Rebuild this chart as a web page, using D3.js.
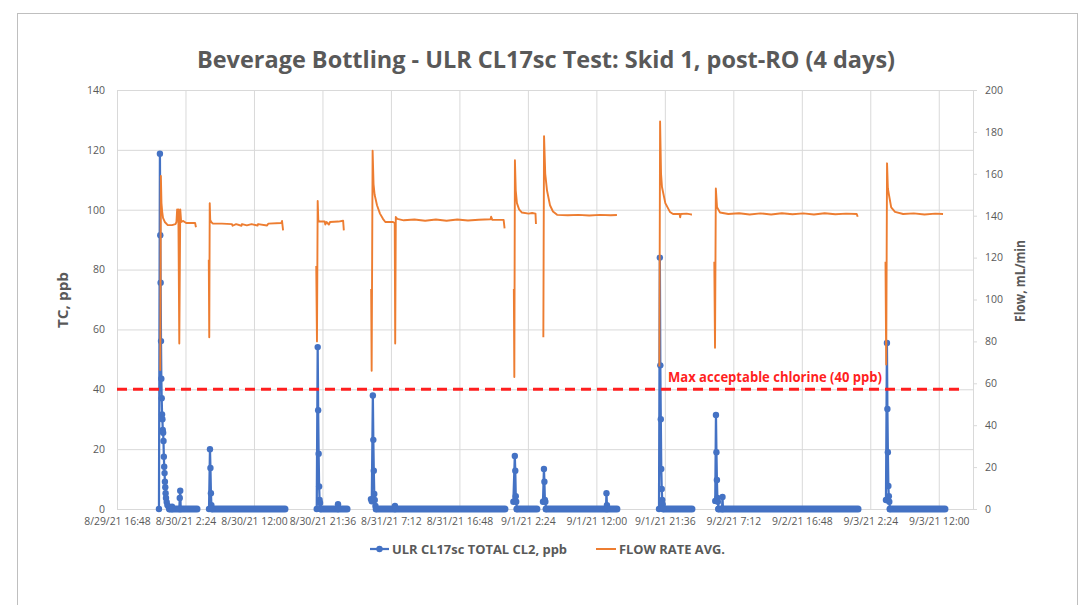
<!DOCTYPE html>
<html>
<head>
<meta charset="utf-8">
<script src="https://cdn.jsdelivr.net/npm/d3@7/dist/d3.min.js"></script>
<style>
  body { margin: 0; background: #fff; }
  svg text { font-family: "Open Sans", "Noto Sans", sans-serif; }
</style>
</head>
<body>
<div id="chart"></div>
<script>
// axis setup
const xDomain = ["8/29/21 16:48", "9/3/21 16:48"];
const xTickLabels = ["8/29/21 16:48", "8/30/21 2:24", "8/30/21 12:00", "8/30/21 21:36", "8/31/21 7:12",
  "8/31/21 16:48", "9/1/21 2:24", "9/1/21 12:00", "9/1/21 21:36", "9/2/21 7:12", "9/2/21 16:48",
  "9/3/21 2:24", "9/3/21 12:00"];
const tcTicks = [0, 20, 40, 60, 80, 100, 120, 140];
const flowTicks = [0, 20, 40, 60, 80, 100, 120, 140, 160, 180, 200];
const maxChlorine = 40;

// chlorine readings (ppb) per run, then the end of the zero stretch that follows
const cl1 = [["8/29/21 22:41", 0], ["8/29/21 22:49", 118.7], ["8/29/21 22:52", 91.5], ["8/29/21 22:55", 75.6],
  ["8/29/21 22:58", 56.1], ["8/29/21 23:01", 43.5], ["8/29/21 23:04", 37], ["8/29/21 23:07", 31.6],
  ["8/29/21 23:10", 30], ["8/29/21 23:13", 26.4], ["8/29/21 23:16", 25.5], ["8/29/21 23:19", 22.7],
  ["8/29/21 23:22", 17.5], ["8/29/21 23:25", 14.1], ["8/29/21 23:28", 12], ["8/29/21 23:31", 9.1],
  ["8/29/21 23:34", 7.3], ["8/29/21 23:37", 5.3], ["8/29/21 23:40", 3.7], ["8/29/21 23:46", 2.3],
  ["8/29/21 23:52", 1.3], ["8/30/21 0:02", 0.7], ["8/30/21 0:10", 0], ["8/30/21 0:27", 0], ["8/30/21 0:31", 0.8],
  ["8/30/21 0:35", 0], ["8/30/21 1:32", 0], ["8/30/21 1:36", 3.7], ["8/30/21 1:40", 6.1], ["8/30/21 1:44", 0]];
const cl2 = [["8/30/21 5:42", 0], ["8/30/21 5:50", 20], ["8/30/21 5:54", 13.7], ["8/30/21 5:58", 5.3],
  ["8/30/21 6:02", 1.3], ["8/30/21 6:08", 0]];
const cl3 = [["8/30/21 20:48", 0], ["8/30/21 20:56", 54.1], ["8/30/21 21:00", 33], ["8/30/21 21:04", 18.5],
  ["8/30/21 21:08", 7.5], ["8/30/21 21:12", 3], ["8/30/21 21:16", 2], ["8/30/21 21:22", 0],
  ["8/30/21 23:43", 0], ["8/30/21 23:47", 1.6], ["8/30/21 23:51", 0]];
const cl4 = [["8/31/21 4:24", 3.3], ["8/31/21 4:31", 2.6], ["8/31/21 4:40", 37.9], ["8/31/21 4:44", 23.1],
  ["8/31/21 4:48", 12.8], ["8/31/21 4:52", 5], ["8/31/21 4:56", 3], ["8/31/21 5:02", 1], ["8/31/21 5:08", 0],
  ["8/31/21 7:42", 0], ["8/31/21 7:46", 1], ["8/31/21 7:50", 0]];
const cl5 = [["9/1/21 0:22", 2.4], ["9/1/21 0:34", 17.7], ["9/1/21 0:38", 12.8], ["9/1/21 0:42", 4.3],
  ["9/1/21 0:46", 2.4], ["9/1/21 0:52", 0]];
const cl6 = [["9/1/21 4:31", 2.4], ["9/1/21 4:39", 13.4], ["9/1/21 4:43", 9.1], ["9/1/21 4:47", 3],
  ["9/1/21 4:51", 2.4], ["9/1/21 4:57", 0], ["9/1/21 13:21", 0], ["9/1/21 13:25", 5.3], ["9/1/21 13:29", 1.3],
  ["9/1/21 13:33", 0]];
const cl7 = [["9/1/21 20:47", 0], ["9/1/21 20:54", 84], ["9/1/21 20:58", 48], ["9/1/21 21:02", 30],
  ["9/1/21 21:06", 13.4], ["9/1/21 21:10", 6.7], ["9/1/21 21:14", 3], ["9/1/21 21:18", 1.5], ["9/1/21 21:24", 0]];
const cl8 = [["9/2/21 4:40", 2.7], ["9/2/21 4:46", 31.4], ["9/2/21 4:50", 19], ["9/2/21 4:54", 9.7],
  ["9/2/21 4:58", 3.7], ["9/2/21 5:02", 2.4], ["9/2/21 5:08", 0], ["9/2/21 5:37", 0], ["9/2/21 5:41", 4],
  ["9/2/21 5:45", 0]];
const cl9 = [["9/3/21 4:36", 3], ["9/3/21 4:44", 55.5], ["9/3/21 4:48", 33.4], ["9/3/21 4:52", 19],
  ["9/3/21 4:56", 7.7], ["9/3/21 5:00", 4.3], ["9/3/21 5:04", 2.4], ["9/3/21 5:10", 0]];
const clRunEnds = ["8/30/21 4:01", "8/30/21 16:21", "8/31/21 1:03", "8/31/21 23:11", "9/1/21 3:40",
  "9/1/21 14:53", "9/2/21 1:24", "9/3/21 0:41", "9/3/21 12:52"];

// flow rate avg (mL/min) per run
const flow1 = [["8/29/21 22:52", 66], ["8/29/21 22:57", 159], ["8/29/21 23:02", 146], ["8/29/21 23:08", 142],
  ["8/29/21 23:15", 139], ["8/29/21 23:30", 137], ["8/29/21 23:55", 135.5], ["8/30/21 0:30", 135.5],
  ["8/30/21 1:00", 136], ["8/30/21 1:08", 137], ["8/30/21 1:14", 143], ["8/30/21 1:19", 139], ["8/30/21 1:24", 143],
  ["8/30/21 1:32", 79], ["8/30/21 1:40", 143], ["8/30/21 1:48", 137], ["8/30/21 2:05", 137.5],
  ["8/30/21 2:30", 136.5], ["8/30/21 3:10", 136.5], ["8/30/21 3:45", 136.5], ["8/30/21 3:52", 134.5]];
const flow2 = [["8/30/21 5:40", 119], ["8/30/21 5:44", 82], ["8/30/21 5:48", 146], ["8/30/21 5:52", 138],
  ["8/30/21 6:00", 137], ["8/30/21 6:15", 136.2], ["8/30/21 7:30", 136.2], ["8/30/21 8:55", 136],
  ["8/30/21 9:00", 135.2], ["8/30/21 9:30", 136], ["8/30/21 10:15", 135.2], ["8/30/21 10:20", 136],
  ["8/30/21 11:00", 135.4], ["8/30/21 11:40", 136], ["8/30/21 12:30", 135.3], ["8/30/21 12:35", 136],
  ["8/30/21 13:50", 135.3], ["8/30/21 14:00", 136.2], ["8/30/21 15:50", 136.5], ["8/30/21 15:56", 137.5],
  ["8/30/21 16:05", 133]];
const flow3 = [["8/30/21 20:44", 116], ["8/30/21 20:50", 80], ["8/30/21 20:56", 147], ["8/30/21 21:01", 138],
  ["8/30/21 21:08", 137.2], ["8/30/21 21:55", 137.2], ["8/30/21 22:00", 135.8], ["8/30/21 22:10", 137],
  ["8/30/21 22:30", 135.8], ["8/30/21 22:40", 137], ["8/30/21 23:50", 137.2], ["8/31/21 0:30", 137.6],
  ["8/31/21 0:36", 133]];
const flow4 = [["8/31/21 4:26", 105], ["8/31/21 4:30", 66], ["8/31/21 4:38", 171], ["8/31/21 4:46", 155],
  ["8/31/21 4:55", 150], ["8/31/21 5:15", 145], ["8/31/21 5:40", 141], ["8/31/21 6:05", 138.5],
  ["8/31/21 6:25", 137], ["8/31/21 7:30", 137], ["8/31/21 7:44", 136.5], ["8/31/21 7:48", 79],
  ["8/31/21 7:53", 139.4], ["8/31/21 8:05", 138.5], ["8/31/21 9:00", 137.8], ["8/31/21 10:30", 138.2],
  ["8/31/21 12:00", 137.6], ["8/31/21 13:30", 138.2], ["8/31/21 15:00", 137.6], ["8/31/21 16:30", 138.2],
  ["8/31/21 18:00", 137.7], ["8/31/21 19:30", 138.1], ["8/31/21 21:10", 138.3], ["8/31/21 21:15", 139.5],
  ["8/31/21 21:25", 138], ["8/31/21 23:00", 138], ["8/31/21 23:08", 134]];
const flow5 = [["9/1/21 0:26", 105], ["9/1/21 0:30", 63], ["9/1/21 0:35", 166.5], ["9/1/21 0:42", 152],
  ["9/1/21 0:52", 146], ["9/1/21 1:10", 143], ["9/1/21 1:34", 141.5], ["9/1/21 2:30", 141],
  ["9/1/21 3:00", 141.3], ["9/1/21 3:28", 141], ["9/1/21 3:32", 136]];
const flow6 = [["9/1/21 4:34", 82], ["9/1/21 4:40", 178], ["9/1/21 4:50", 160], ["9/1/21 5:05", 152],
  ["9/1/21 5:30", 145], ["9/1/21 5:55", 142], ["9/1/21 6:30", 140.4], ["9/1/21 8:00", 140.2],
  ["9/1/21 9:30", 140.4], ["9/1/21 11:00", 140.1], ["9/1/21 12:30", 140.4], ["9/1/21 14:00", 140.2],
  ["9/1/21 14:53", 140.3]];
const flow7 = [["9/1/21 20:50", 68], ["9/1/21 20:56", 185], ["9/1/21 21:04", 160], ["9/1/21 21:12", 153.7],
  ["9/1/21 21:40", 146], ["9/1/21 22:19", 141.8], ["9/1/21 22:45", 140.8], ["9/1/21 23:40", 140.8],
  ["9/1/21 23:45", 139.2], ["9/1/21 23:50", 140.8], ["9/2/21 0:40", 141], ["9/2/21 1:15", 140.6],
  ["9/2/21 1:24", 140.6]];
const flow8 = [["9/2/21 4:32", 118], ["9/2/21 4:38", 77], ["9/2/21 4:45", 153], ["9/2/21 4:55", 144],
  ["9/2/21 5:20", 141.5], ["9/2/21 6:30", 140.8], ["9/2/21 8:00", 141.2], ["9/2/21 9:30", 140.6],
  ["9/2/21 11:00", 141.1], ["9/2/21 12:30", 140.6], ["9/2/21 14:00", 141.2], ["9/2/21 15:30", 140.7],
  ["9/2/21 17:00", 141.1], ["9/2/21 18:30", 140.6], ["9/2/21 20:00", 141.2], ["9/2/21 21:30", 140.7],
  ["9/2/21 23:00", 141], ["9/3/21 0:30", 140.8], ["9/3/21 0:38", 139.5]];
const flow9 = [["9/3/21 4:32", 118], ["9/3/21 4:38", 69], ["9/3/21 4:45", 165], ["9/3/21 4:52", 153],
  ["9/3/21 5:01", 150], ["9/3/21 5:20", 144], ["9/3/21 5:52", 141.8], ["9/3/21 7:00", 140.8],
  ["9/3/21 8:30", 141.1], ["9/3/21 10:00", 140.6], ["9/3/21 11:30", 141], ["9/3/21 12:36", 140.8]];

const clRuns = [cl1, cl2, cl3, cl4, cl5, cl6, cl7, cl8, cl9];
const flowRuns = [flow1, flow2, flow3, flow4, flow5, flow6, flow7, flow8, flow9];

const BLUE = "#4472C4", ORANGE = "#ED7D31", GRID = "#d9d9d9", TEXT = "#595959";
const parse = d3.timeParse("%m/%d/%y %H:%M");

const width = 1086, height = 605;
const plot = { left: 117, right: 973, top: 90, bottom: 509 };

const svg = d3.select("#chart").append("svg")
  .attr("width", width)
  .attr("height", height);

svg.append("rect").attr("width", width).attr("height", height).attr("fill", "#fff");
// chart border
svg.append("rect")
  .attr("x", 17.5).attr("y", 13.5)
  .attr("width", 1060).attr("height", 620)
  .attr("fill", "none").attr("stroke", "#bfbfbf");

const x = d3.scaleTime()
  .domain(xDomain.map(parse))
  .range([plot.left, plot.right]);
const yL = d3.scaleLinear().domain([0, 140]).range([plot.bottom, plot.top]);
const yR = d3.scaleLinear().domain([0, 200]).range([plot.bottom, plot.top]);

// gridlines
svg.append("g")
  .attr("transform", `translate(0,${plot.bottom})`)
  .call(d3.axisBottom(x).tickValues(xTickLabels.map(parse)).tickSize(-(plot.bottom - plot.top)).tickFormat(""))
  .call(g => g.select(".domain").remove())
  .call(g => g.selectAll("line").attr("stroke", GRID));
svg.append("g")
  .attr("transform", `translate(${plot.left},0)`)
  .call(d3.axisLeft(yL).tickValues(tcTicks).tickSize(-(plot.right - plot.left)).tickFormat(""))
  .call(g => g.select(".domain").remove())
  .call(g => g.selectAll("line").attr("stroke", GRID));

// left axis labels
svg.append("g")
  .attr("transform", `translate(${plot.left},0)`)
  .call(d3.axisLeft(yL).tickValues(tcTicks).tickSize(0).tickPadding(12))
  .call(g => g.select(".domain").remove())
  .call(g => g.selectAll("text").attr("fill", TEXT).style("font-size", "10.5px"));

// right axis
svg.append("g")
  .attr("transform", `translate(${plot.right},0)`)
  .call(d3.axisRight(yR).tickValues(flowTicks).tickSize(4).tickPadding(8))
  .call(g => g.select(".domain").attr("stroke", GRID))
  .call(g => g.selectAll("line").attr("stroke", GRID))
  .call(g => g.selectAll("text").attr("fill", TEXT).style("font-size", "10.5px"));

// bottom axis labels
svg.append("g")
  .attr("transform", `translate(0,${plot.bottom})`)
  .call(d3.axisBottom(x).tickValues(xTickLabels.map(parse)).tickSize(0).tickPadding(9)
    .tickFormat(d3.timeFormat("%-m/%-d/%y %-H:%M")))
  .call(g => g.select(".domain").attr("stroke", GRID))
  .call(g => g.selectAll("text").attr("fill", TEXT).style("font-size", "10.4px"));

// chlorine series
const clLine = d3.line().x(d => x(parse(d[0]))).y(d => yL(d[1]));
clRuns.forEach((run, i) => {
  const peak = d3.maxIndex(run, d => d[1]);
  const bandStart = run.find((d, j) => j > peak && d[1] === 0);
  const band = [bandStart, [clRunEnds[i], 0]];
  svg.append("path")
    .attr("d", clLine(band))
    .attr("stroke", BLUE).attr("stroke-width", 7).attr("stroke-linecap", "round")
    .attr("fill", "none");
  svg.append("path")
    .attr("d", clLine(run.concat([[clRunEnds[i], 0]])))
    .attr("stroke", BLUE).attr("stroke-width", 2.25).attr("fill", "none")
    .attr("stroke-linejoin", "round");
  svg.append("g").selectAll("circle")
    .data(run)
    .join("circle")
    .attr("cx", d => x(parse(d[0])))
    .attr("cy", d => yL(d[1]))
    .attr("r", 3.2)
    .attr("fill", BLUE);
});

// flow series
const flowLine = d3.line().x(d => x(parse(d[0]))).y(d => yR(d[1]));
flowRuns.forEach(run => {
  svg.append("path")
    .attr("d", flowLine(run))
    .attr("stroke", ORANGE).attr("stroke-width", 1.9).attr("fill", "none")
    .attr("stroke-linejoin", "round");
});

// threshold line
svg.append("line")
  .attr("x1", plot.left).attr("x2", 962)
  .attr("y1", yL(maxChlorine)).attr("y2", yL(maxChlorine))
  .attr("stroke", "#FF1F1F").attr("stroke-width", 3)
  .attr("stroke-dasharray", "10,6");
svg.append("text")
  .attr("x", 668).attr("y", yL(maxChlorine) - 7)
  .attr("textLength", 214).attr("lengthAdjust", "spacingAndGlyphs")
  .style("font-size", "14px").style("font-weight", "bold")
  .attr("fill", "#FF1F1F")
  .text("Max acceptable chlorine (40 ppb)");

// title
svg.append("text")
  .attr("x", 197).attr("y", 68)
  .attr("textLength", 698).attr("lengthAdjust", "spacingAndGlyphs")
  .style("font-size", "23px").style("font-weight", "bold")
  .attr("fill", TEXT)
  .text("Beverage Bottling - ULR CL17sc Test: Skid 1, post-RO (4 days)");

// axis titles
svg.append("text")
  .attr("transform", "translate(68,300) rotate(-90)")
  .attr("text-anchor", "middle")
  .attr("textLength", 56).attr("lengthAdjust", "spacingAndGlyphs")
  .style("font-size", "15px").style("font-weight", "bold")
  .attr("fill", TEXT)
  .text("TC, ppb");
svg.append("text")
  .attr("transform", "translate(1025,281) rotate(-90)")
  .attr("text-anchor", "middle")
  .attr("textLength", 82).attr("lengthAdjust", "spacingAndGlyphs")
  .style("font-size", "15px").style("font-weight", "bold")
  .attr("fill", TEXT)
  .text("Flow, mL/min");

// legend
const legend = svg.append("g").attr("transform", "translate(0,549)");
legend.append("line").attr("x1", 370).attr("x2", 389)
  .attr("stroke", BLUE).attr("stroke-width", 2.25);
legend.append("circle").attr("cx", 379.5).attr("r", 3.2).attr("fill", BLUE);
legend.append("text")
  .attr("x", 392).attr("y", 4.5)
  .attr("textLength", 175).attr("lengthAdjust", "spacingAndGlyphs")
  .style("font-size", "12.5px").style("font-weight", "bold")
  .attr("fill", TEXT)
  .text("ULR CL17sc TOTAL CL2, ppb");
legend.append("line").attr("x1", 596).attr("x2", 616)
  .attr("stroke", ORANGE).attr("stroke-width", 2);
legend.append("text")
  .attr("x", 619).attr("y", 4.5)
  .attr("textLength", 106).attr("lengthAdjust", "spacingAndGlyphs")
  .style("font-size", "12.5px").style("font-weight", "bold")
  .attr("fill", TEXT)
  .text("FLOW RATE AVG.");
</script>
</body>
</html>
